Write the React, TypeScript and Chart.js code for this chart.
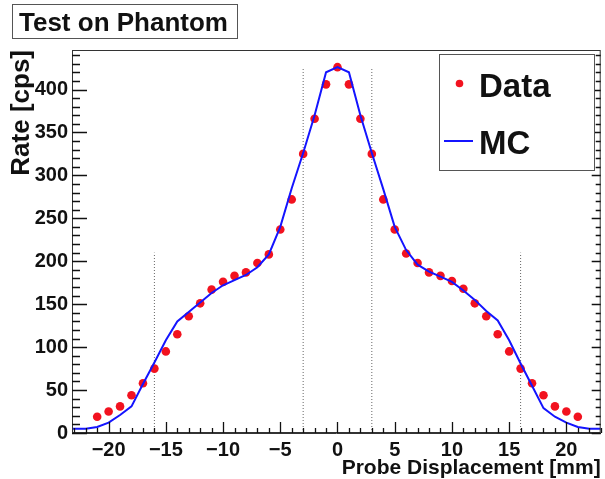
import React, { useEffect, useRef } from 'react';
import { Chart, registerables } from 'chart.js';

Chart.register(...registerables);

// ---- data ----
const dataX = [-21, -20, -19, -18, -17, -16, -15, -14, -13, -12, -11, -10, -9, -8, -7, -6, -5, -4, -3, -2, -1, 0,
  1, 2, 3, 4, 5, 6, 7, 8, 9, 10, 11, 12, 13, 14, 15, 16, 17, 18, 19, 20, 21];
const dataY = [19, 25, 31, 44, 58, 75, 95, 115, 136, 151, 167, 176, 183, 187, 198, 208, 237, 272, 325, 366, 406, 426,
  406, 366, 325, 272, 237, 209, 198, 187, 183, 177, 168, 151, 136, 115, 95, 75, 58, 44, 31, 25, 19];

const mcX = [-24, -23, -22, -21, -20, -19, -18, -17, -16, -15, -14, -13, -12, -11, -10, -9, -8, -7, -6, -5, -4, -3, -2, -1, 0,
  1, 2, 3, 4, 5, 6, 7, 8, 9, 10, 11, 12, 13, 14, 15, 16, 17, 18, 19, 20, 21, 22, 23, 24];
const mcY = [5, 5, 5, 7, 12, 21, 31, 57, 82, 108, 130, 141, 152, 163, 172, 178, 184, 193, 208, 240, 285, 326, 370, 420, 426,
  420, 370, 326, 284, 240, 213, 196, 188, 182, 176, 166, 155, 142, 131, 108, 81, 55, 29, 19, 12, 7, 5, 5, 5];

const guideX = [-16, -3, 3, 16];
const guideTop = [210, 425, 425, 210];

const xTicks = [-20, -15, -10, -5, 0, 5, 10, 15, 20];
const xTickLabels = ['\u221220', '\u221215', '\u221210', '\u22125', '0', '5', '10', '15', '20'];
const yTicks = [0, 50, 100, 150, 200, 250, 300, 350, 400];
const yTickLabels = ['0', '50', '100', '150', '200', '250', '300', '350', '400'];

const seriesNames = ['Data', 'MC'];
const chartTitle = 'Test on Phantom';
const xTitle = 'Probe Displacement [mm]';
const yTitle = 'Rate [cps]';

const X_MIN = -23.2;
const X_MAX = 23.0;
const Y_MIN = 0;
const Y_MAX = 446;

const FONT = "'Liberation Sans', Arial, Helvetica, sans-serif";
const RED = '#f2121f';
const BLUE = '#1414ff';
const AXIS = '#111';

const framePlugin = {
  id: 'rootFrame',
  afterDraw(chart: any) {
    const ctx = chart.ctx;
    const a = chart.chartArea;
    const xs = chart.scales.x;
    const ys = chart.scales.y;
    ctx.save();
    ctx.strokeStyle = '#333';
    ctx.lineWidth = 1;
    ctx.strokeRect(a.left + 0.5, a.top + 0.5, a.right - a.left - 1, a.bottom - a.top - 1);

    // inward tick marks (ROOT style)
    ctx.strokeStyle = AXIS;
    ctx.lineWidth = 1.3;
    ctx.beginPath();
    for (let v = -23; v <= 23; v++) {
      const px = Math.round(xs.getPixelForValue(v)) + 0.5;
      const len = v % 5 === 0 ? 11 : 5;
      ctx.moveTo(px, a.bottom);
      ctx.lineTo(px, a.bottom - len);
    }
    for (let v = 0; v <= 440; v += 10) {
      const py = Math.round(ys.getPixelForValue(v)) + 0.5;
      const major = v % 50 === 0;
      ctx.moveTo(a.left, py);
      ctx.lineTo(a.left + (major ? 15 : 8), py);
      ctx.moveTo(a.right, py);
      ctx.lineTo(a.right - (major ? 9 : 5), py);
    }
    ctx.stroke();

    // title box
    ctx.fillStyle = '#fff';
    ctx.fillRect(12, 4, 225, 34);
    ctx.lineWidth = 1;
    ctx.strokeStyle = '#555';
    ctx.strokeRect(12.5, 4.5, 225, 34);
    ctx.fillStyle = '#111';
    ctx.font = `bold 26px ${FONT}`;
    ctx.textAlign = 'left';
    ctx.textBaseline = 'alphabetic';
    ctx.fillText(chartTitle, 19, 31);

    // legend box
    ctx.fillStyle = '#fff';
    ctx.fillRect(439, 54, 155, 116);
    ctx.strokeStyle = '#555';
    ctx.strokeRect(439.5, 54.5, 155, 116);
    ctx.fillStyle = RED;
    ctx.beginPath();
    ctx.arc(459.5, 83.5, 3.8, 0, Math.PI * 2);
    ctx.fill();
    ctx.strokeStyle = BLUE;
    ctx.lineWidth = 2;
    ctx.beginPath();
    ctx.moveTo(444, 141);
    ctx.lineTo(473, 141);
    ctx.stroke();
    ctx.fillStyle = '#111';
    ctx.font = `bold 33px ${FONT}`;
    ctx.fillText(seriesNames[0], 479, 97);
    ctx.fillText(seriesNames[1], 479, 154);
    ctx.restore();
  },
};

export default function App() {
  const ref = useRef<HTMLCanvasElement | null>(null);
  useEffect(() => {
    if (!ref.current) return;
    const tickFont = { family: FONT, size: 20, weight: 'bold' as const };
    const guideSets = guideX.map((gx, i) => ({
      label: 'guide' + i,
      data: [{ x: gx, y: 0 }, { x: gx, y: guideTop[i] }],
      showLine: true,
      borderColor: '#666',
      borderWidth: 1,
      borderDash: [1, 2],
      pointRadius: 0,
      order: 3,
    }));
    const chart = new Chart(ref.current, {
      type: 'scatter',
      data: {
        datasets: [
          {
            label: seriesNames[1],
            data: mcX.map((v, i) => ({ x: v, y: mcY[i] })),
            showLine: true,
            borderColor: BLUE,
            borderWidth: 2,
            pointRadius: 0,
            tension: 0,
            order: 0,
          },
          {
            label: seriesNames[0],
            data: dataX.map((v, i) => ({ x: v, y: dataY[i] })),
            showLine: false,
            backgroundColor: RED,
            borderColor: RED,
            pointRadius: 4.3,
            pointBorderWidth: 0,
            order: 1,
          },
          ...guideSets,
        ] as any,
      },
      options: {
        animation: false,
        responsive: false,
        layout: { padding: { left: 0, right: 0, top: 50, bottom: 0 } },
        plugins: { legend: { display: false }, tooltip: { enabled: false }, title: { display: false } },
        scales: {
          x: {
            type: 'linear',
            position: 'bottom',
            min: X_MIN,
            max: X_MAX,
            afterBuildTicks: (s: any) => {
              s.ticks = xTicks.map((v) => ({ value: v }));
            },
            afterFit: (s: any) => {
              s.height = 46;
            },
            ticks: {
              autoSkip: false,
              maxRotation: 0,
              padding: 5,
              color: '#111',
              font: tickFont,
              callback: (v: any) => xTickLabels[xTicks.indexOf(Number(v))] ?? '',
            },
            grid: { display: false, drawTicks: false },
            border: { display: true, color: '#333', width: 1 },
            title: {
              display: true,
              text: xTitle,
              align: 'end',
              color: '#111',
              padding: 0,
              font: { family: FONT, size: 21, weight: 'bold', lineHeight: 1 },
            },
          },
          y: {
            type: 'linear',
            position: 'left',
            min: Y_MIN,
            max: Y_MAX,
            afterBuildTicks: (s: any) => {
              s.ticks = yTicks.map((v) => ({ value: v }));
            },
            afterFit: (s: any) => {
              s.width = 72;
            },
            ticks: {
              autoSkip: false,
              padding: 4,
              color: '#111',
              font: tickFont,
              callback: (v: any) => yTickLabels[yTicks.indexOf(Number(v))] ?? '',
            },
            grid: { display: false, drawTicks: false },
            border: { display: true, color: '#333', width: 1 },
            title: {
              display: true,
              text: yTitle,
              align: 'end',
              color: '#111',
              padding: { top: 6, bottom: 0 },
              font: { family: FONT, size: 26, weight: 'bold', lineHeight: 1.2 },
            },
          },
        },
      } as any,
      plugins: [framePlugin],
    });
    return () => chart.destroy();
  }, []);
  return (
    <div style={{ position: 'fixed', left: 0, top: 0, width: 605, height: 479, background: '#fff' }}>
      <canvas ref={ref} width={605} height={479} style={{ display: 'block' }} />
    </div>
  );
}
